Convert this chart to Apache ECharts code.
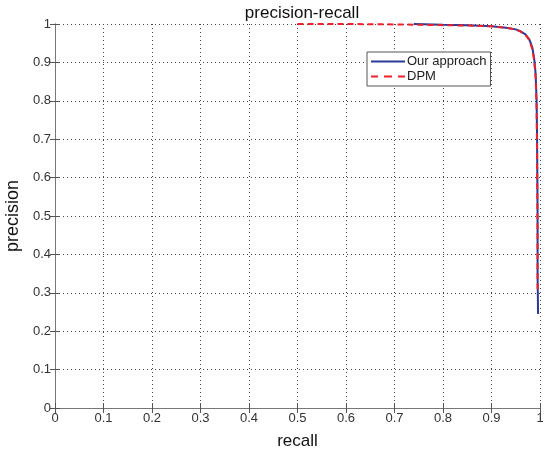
<!DOCTYPE html>
<html>
<head>
<meta charset="utf-8">
<script src="https://cdn.jsdelivr.net/npm/echarts@6/dist/echarts.min.js"></script>
<style>
	html, body { margin: 0; padding: 0; background: #fff; }
	#chart { width: 549px; height: 449px; }
</style>
</head>
<body>
<div id="chart"></div>
<script>
// precision-recall curves, values
const oursRecall = [0.74, 0.8, 0.85, 0.9, 0.93, 0.95, 0.96, 0.97, 0.978, 0.984, 0.988, 0.991, 0.993, 0.994, 0.995, 0.995, 0.996];
const oursPrecision = [1.0, 0.998, 0.997, 0.994, 0.99, 0.986, 0.981, 0.973, 0.96, 0.94, 0.91, 0.87, 0.8, 0.7, 0.5, 0.35, 0.245];

const dpmRecall = [0.5, 0.6, 0.7, 0.8, 0.85, 0.9, 0.93, 0.95, 0.96, 0.97, 0.978, 0.984, 0.988, 0.991, 0.993, 0.994, 0.995, 0.995];
const dpmPrecision = [1.0, 1.0, 0.999, 0.997, 0.996, 0.994, 0.99, 0.986, 0.98, 0.972, 0.958, 0.935, 0.905, 0.86, 0.78, 0.65, 0.45, 0.3];

const tickLabels = ['0', '0.1', '0.2', '0.3', '0.4', '0.5', '0.6', '0.7', '0.8', '0.9', '1'];

const chart = echarts.init(document.getElementById('chart'));

const fontFamily = 'Liberation Sans, Arial, sans-serif';
const fmt = (v) => tickLabels[Math.round(v * 10)];

const gridLine = {
	show: true,
	lineStyle: { color: '#444', type: [1, 3], width: 1 },
};

const tick = { show: true, inside: true, length: 5, lineStyle: { color: '#555' } };
const frame = { show: true, lineStyle: { color: '#777' } };

const xAxis = [
	{
		type: 'value',
		min: 0,
		max: 1,
		interval: 0.1,
		name: 'recall',
		nameLocation: 'middle',
		nameGap: 25,
		nameTextStyle: { fontSize: 17, color: '#111', fontFamily },
		axisLine: frame,
		axisTick: tick,
		axisLabel: { formatter: fmt, color: '#333', fontSize: 13, fontFamily, margin: 4 },
		splitLine: gridLine,
	},
	{
		type: 'value',
		position: 'top',
		min: 0,
		max: 1,
		interval: 0.1,
		axisLine: frame,
		axisTick: tick,
		axisLabel: { show: false },
		splitLine: { show: false },
	},
];

const yAxis = [
	{
		type: 'value',
		min: 0,
		max: 1,
		interval: 0.1,
		name: 'precision',
		nameLocation: 'middle',
		nameGap: 29,
		nameTextStyle: { fontSize: 18, color: '#111', fontFamily },
		axisLine: frame,
		axisTick: tick,
		axisLabel: { formatter: fmt, color: '#333', fontSize: 13, fontFamily, margin: 4 },
		splitLine: gridLine,
	},
	{
		type: 'value',
		position: 'right',
		min: 0,
		max: 1,
		interval: 0.1,
		axisLine: frame,
		axisTick: tick,
		axisLabel: { show: false },
		splitLine: { show: false },
	},
];

const series = [
	{
		name: 'Our approach',
		type: 'line',
		symbol: 'none',
		lineStyle: { color: '#2b3a96', width: 2 },
		itemStyle: { color: '#2b3a96' },
		data: oursRecall.map((r, i) => [r, oursPrecision[i]]),
		z: 3,
	},
	{
		name: 'DPM',
		type: 'line',
		symbol: 'none',
		lineStyle: { color: '#f0202a', width: 2, type: [6, 4] },
		itemStyle: { color: '#f0202a' },
		data: dpmRecall.map((r, i) => [r, dpmPrecision[i]]),
		z: 4,
	},
];

chart.setOption({
	backgroundColor: '#fff',
	animation: false,
	title: {
		text: 'precision-recall',
		left: 297,
		textAlign: 'center',
		top: 0,
		textStyle: { fontSize: 17, fontWeight: 'normal', color: '#111', fontFamily },
	},
	legend: {
		orient: 'vertical',
		left: 367,
		top: 52,
		itemWidth: 34,
		itemHeight: 2,
		itemGap: 0,
		symbolKeepAspect: false,
		padding: [2, 4, 2, 4],
		borderColor: '#555',
		borderWidth: 1,
		backgroundColor: '#fff',
		textStyle: { fontSize: 13, color: '#222', fontFamily, padding: [0, 0, 0, -3], lineHeight: 15 },
		data: [
			{ name: 'Our approach', icon: 'path://M0,0h34v2h-34z' },
			{ name: 'DPM', icon: 'path://M0,0h7v2h-7zM13,0h8v2h-8zM27,0h7v2h-7z' },
		],
	},
	grid: { left: 55, right: 9, top: 24, bottom: 41, outerBoundsMode: 'none' },
	xAxis,
	yAxis,
	series,
});
</script>
</body>
</html>
